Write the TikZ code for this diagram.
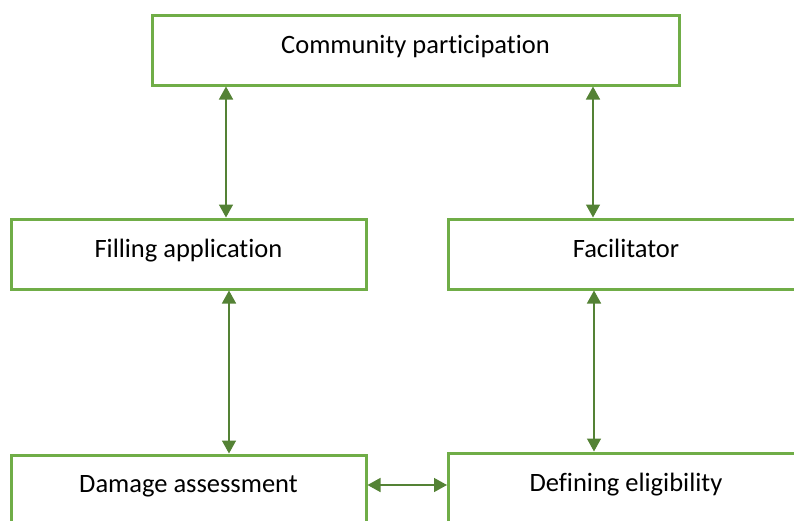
\documentclass[tikz,border=0pt]{standalone}
\usepackage{fontspec}
\setmainfont{Carlito}[Ligatures=NoCommon]
\usetikzlibrary{arrows.meta,positioning}
\definecolor{frame}{HTML}{70AD47}
\definecolor{arrowc}{HTML}{548235}
\tikzset{
  box/.style={draw=frame, line width=3pt, fill=white, align=center, font=\fontsize{26.5}{30}\selectfont, inner sep=0pt, text depth=12pt, minimum height=70pt},
  wide/.style={box, minimum width=527pt},
  half/.style={box, minimum width=355pt},
  link/.style={{Triangle[length=13pt,width=14pt]}-{Triangle[length=13pt,width=14pt]}, arrowc, line width=1.5pt},
}

\begin{document}
\begin{tikzpicture}[x=1pt, y=-1pt]
        \useasboundingbox (0,0) rectangle (794,520);
        \node[wide] (comm) at (415.5,50) {Community participation};
        \node[half] (fill) at (188.5,254) {Filling application};
        \node[half] (fac) at (626,254) {Facilitator};
        \node[half] (dmg) at (188.5,490) {Damage assessment};
        \node[half] (elig) at (626,488) {Defining eligibility};
        % arrow positions
        \coordinate (ca) at (226,0);
        \coordinate (cb) at (593,0);
        \coordinate (cc) at (229,0);
        \coordinate (cd) at (594,0);
        \coordinate (ce) at (0,485);
        \draw[link] (comm.south -| ca) -- (fill.north -| ca);
        \draw[link] (comm.south -| cb) -- (fac.north -| cb);
        \draw[link] (fill.south -| cc) -- (dmg.north -| cc);
        \draw[link] (fac.south -| cd) -- (elig.north -| cd);
        \draw[link] (dmg.east |- ce) -- (elig.west |- ce);
      \end{tikzpicture}
\end{document}
